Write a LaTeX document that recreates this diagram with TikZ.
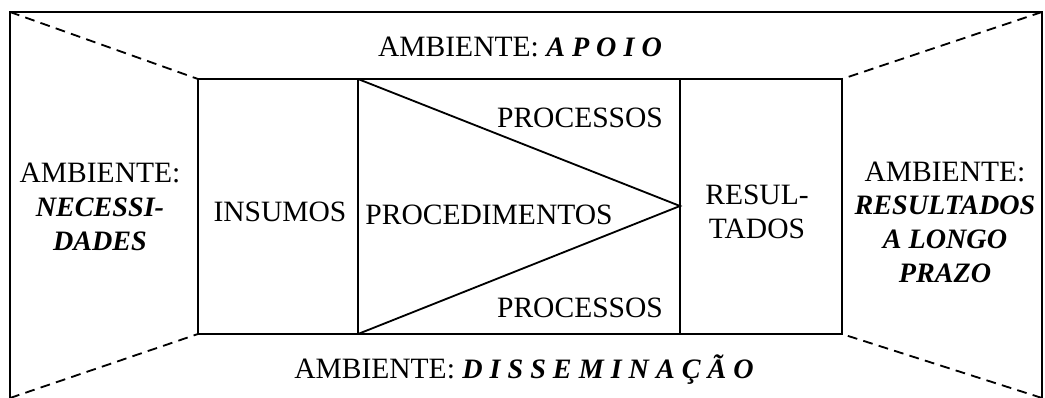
\documentclass[tikz,border=0pt]{standalone}
\usepackage{fontspec}
\setmainfont{Liberation Serif}
\newcommand{\envit}[1]{{\fontsize{20}{24}\selectfont\bfseries\itshape #1}}
\begin{document}
\begin{tikzpicture}[line width=1.3pt,
        wall/.style={dash pattern=on 7pt off 4.5pt},
        txt/.style={font=\fontsize{21}{24}\selectfont,align=center,inner sep=0pt}]
    \useasboundingbox (0,0) rectangle (26.125,-9.925);
    % outer frame and inner box
    \coordinate (outBL) at (0.25,-9.95);
    \coordinate (outTL) at (0.25,-0.3);
    \coordinate (outTR) at (26.05,-0.3);
    \coordinate (outBR) at (26.05,-9.95);
    \coordinate (inTL) at (4.95,-1.975);
    \coordinate (inBL) at (4.95,-8.35);
    \coordinate (inTR) at (21.05,-1.975);
    \coordinate (inBR) at (21.05,-8.35);
    \coordinate (triT) at (8.95,-1.975);
    \coordinate (triB) at (8.95,-8.35);
    \coordinate (apex) at (17.0,-5.15);
    \coordinate (resT) at (17.0,-1.975);
    \coordinate (resB) at (17.0,-8.35);
    \draw (outBL) -- (outTL) -- (outTR) -- (outBR);
    \draw (inTL) rectangle (inBR);
    \draw (triT) -- (triB);
    \draw (resT) -- (resB);
    \draw (triT) -- (apex) -- (triB);
    \draw[wall] (outTL) -- (inTL);
    \draw[wall] (outBL) -- (inBL);
    \draw[wall] (outTR) -- (inTR);
    \draw[wall] (outBR) -- (inBR);
    % texts
    \node[txt] (apoio) at (13.0,-1.175) {AMBIENTE: \envit{A P O I O}};
    \node[txt] (dissem) at (13.1,-9.25) {AMBIENTE: \envit{D I S S E M I N A Ç Ã O}};
    \node[txt] (necess) at (2.5,-5.175) {AMBIENTE:\\\envit{NECESSI-}\\\envit{DADES}};
    \node[txt] (longo) at (23.625,-5.55) {AMBIENTE:\\\envit{RESULTADOS}\\\envit{A LONGO}\\\envit{PRAZO}};
    \node[txt] (insumos) at (7.0,-5.3) {INSUMOS};
    \node[txt] (proced) at (12.225,-5.375) {PROCEDIMENTOS};
    \node[txt] (procA) at (14.5,-2.95) {PROCESSOS};
    \node[txt] (procB) at (14.5,-7.7) {PROCESSOS};
    \node[txt] (result) at (18.925,-5.3) {RESUL-\\TADOS};
\end{tikzpicture}
\end{document}
